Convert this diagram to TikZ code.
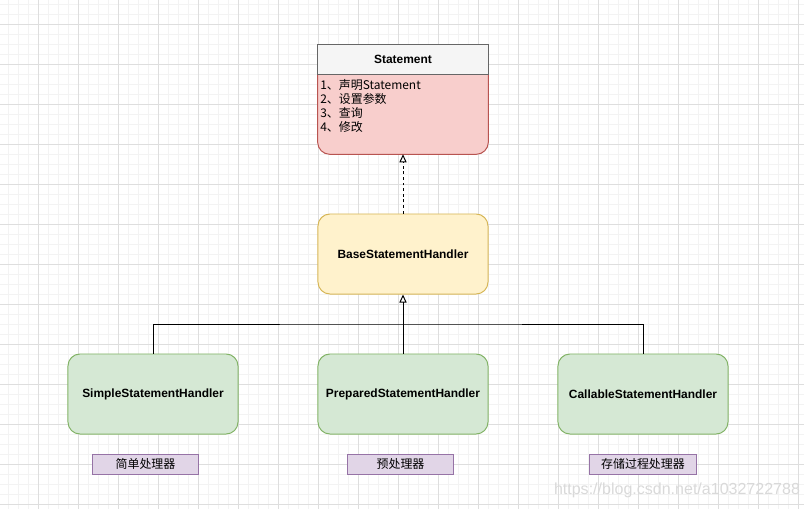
\documentclass[tikz,border=0pt]{standalone}
\usepackage{fontspec}
\setmainfont{Liberation Sans}
\newfontfamily\cjk{Noto Sans CJK SC}
\usetikzlibrary{arrows.meta,positioning}
\definecolor{GridMinor}{RGB}{243,243,243}
\definecolor{GridMajor}{RGB}{222,222,222}
\definecolor{HeadGray}{RGB}{245,245,245}
\definecolor{HeadLine}{RGB}{102,102,102}
\definecolor{RedFill}{RGB}{248,206,204}
\definecolor{RedLine}{RGB}{184,84,80}
\definecolor{YellowFill}{RGB}{255,242,204}
\definecolor{YellowLine}{RGB}{214,182,86}
\definecolor{GreenFill}{RGB}{213,232,212}
\definecolor{GreenLine}{RGB}{130,179,102}
\definecolor{PurpleFill}{RGB}{225,213,231}
\definecolor{PurpleLine}{RGB}{150,115,166}
\tikzset{
  sh/class/.style={
    draw=HeadLine,
    line width=0.7pt,
    fill=HeadGray,
    align=center,
    minimum width=4.25cm,
    minimum height=0.75cm,
    inner sep=0pt,
    font=\fontsize{8.5}{10}\selectfont\bfseries
  },
  sh/handler/.style={
    line width=0.7pt,
    rounded corners=0.3cm,
    align=center,
    minimum width=4.25cm,
    minimum height=2cm,
    inner sep=0pt,
    font=\fontsize{8.5}{10}\selectfont\bfseries
  },
  sh/base/.style={sh/handler, draw=YellowLine, fill=YellowFill},
  sh/impl/.style={sh/handler, draw=GreenLine, fill=GreenFill},
  sh/note/.style={
    draw=PurpleLine,
    line width=0.7pt,
    fill=PurpleFill,
    minimum height=0.5cm,
    inner sep=0pt,
    font=\cjk\fontsize{8.5}{10}\selectfont
  },
  sh/inherit/.style={-{Triangle[open,length=0.2cm,width=0.18cm]}, line width=0.7pt},
  sh/realize/.style={sh/inherit, dash pattern=on 2pt off 2pt},
  sh/link/.style={line width=0.7pt}
}
\begin{document}
\begin{tikzpicture}[x=0.025cm,y=-0.025cm]
  \useasboundingbox (0,0) rectangle (804,509);
  % grid
  \foreach \gx in {-2,8,...,804} \draw[GridMinor,line width=0.5pt] (\gx,0) -- (\gx,509);
  \foreach \gy in {4,14,...,509} \draw[GridMinor,line width=0.5pt] (0,\gy) -- (804,\gy);
  \foreach \gx in {38,78,...,804} \draw[GridMajor,line width=0.6pt] (\gx,0) -- (\gx,509);
  \foreach \gy in {24,64,...,509} \draw[GridMajor,line width=0.6pt] (0,\gy) -- (804,\gy);

  % Statement
  \node[minimum width=4.25cm,minimum height=2cm,inner sep=0pt] (stmtbody) at (403,114) {};
  \filldraw[fill=RedFill,draw=RedLine,line width=0.7pt,rounded corners=0.3cm]
    (stmtbody.north west) -- (stmtbody.south west) -- (stmtbody.south east) -- (stmtbody.north east);
  \node[sh/class] (stmt) at (403,59) {Statement};
  \node[anchor=north west,align=left,inner sep=0pt,font=\cjk\fontsize{8.5}{9.96}\selectfont]
    (stmttext) at (320,79) {1、声明Statement\\2、设置参数\\3、查询\\4、修改};

  % handlers
  \node[sh/base] (base) at (403,254) {BaseStatementHandler};
  \node[sh/impl] (simple) at (153,394) {SimpleStatementHandler};
  \node[sh/impl] (prepared) at (403,394) {PreparedStatementHandler};
  \node[sh/impl] (callable) at (643,394) {CallableStatementHandler};

  \node[sh/note,minimum width=2.625cm] (simplenote) at (145.5,464) {简单处理器};
  \node[sh/note,minimum width=2.625cm] (preparednote) at (400.5,464) {预处理器};
  \node[sh/note,minimum width=2.65cm] (callablenote) at (643,464) {存储过程处理器};

  % connectors
  \coordinate (bus) at (403,324);
  \draw[sh/realize] (base.north) -- (stmtbody.south);
  \draw[sh/link] (simple.north) |- (bus) -| (callable.north);
  \draw[sh/inherit] (prepared.north) -- (base.south);

  \node[text=gray!30,font=\fontsize{11.4}{12}\selectfont] (mark) at (677,490) {https://blog.csdn.net/a1032722788};
\end{tikzpicture}
\end{document}
